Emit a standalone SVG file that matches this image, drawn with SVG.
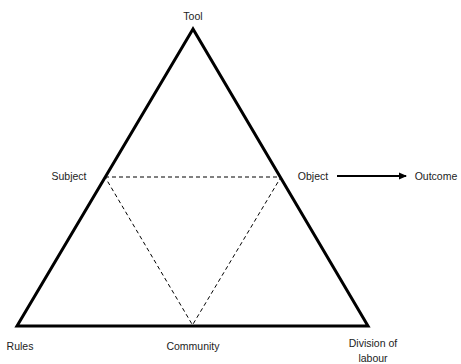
<svg xmlns="http://www.w3.org/2000/svg" width="461" height="364" viewBox="0 0 461 364">
<style>
text{font-family:"Liberation Sans",Arial,sans-serif;font-size:10.5px;fill:#222;text-anchor:middle}
.tri{fill:none;stroke:#000;stroke-width:3;stroke-linejoin:miter}
.dash{fill:none;stroke:#000;stroke-width:1;stroke-dasharray:4,3}
.arr{stroke:#000;stroke-width:2}
</style>
<defs>
<marker id="ah" markerWidth="8" markerHeight="8" refX="7" refY="4" orient="auto" markerUnits="userSpaceOnUse">
<path d="M0,0.5 L8,4 L0,7.5 Z" fill="#000"/>
</marker>
</defs>
<rect width="461" height="364" fill="#fff"/>
<g id="connectors">
<polygon class="tri" points="193,29 17,326 368,326"/>
<path class="dash" d="M105,177 L281,177 L192.5,325 Z"/>
<line class="arr" x1="337" y1="176" x2="406" y2="176" marker-end="url(#ah)"/>
</g>
<g id="tool"><text x="193" y="20">Tool</text></g>
<g id="subject"><text x="69" y="180">Subject</text></g>
<g id="object"><text x="313" y="180">Object</text></g>
<g id="outcome"><text x="436" y="180">Outcome</text></g>
<g id="rules"><text x="20" y="350">Rules</text></g>
<g id="community"><text x="193" y="350">Community</text></g>
<g id="division"><text x="373" y="347">Division of</text><text x="373" y="362">labour</text></g>
</svg>
